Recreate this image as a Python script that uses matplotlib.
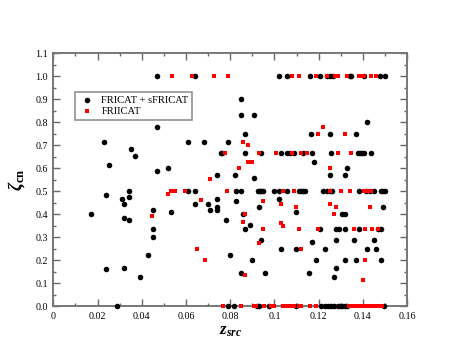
import matplotlib
matplotlib.use("Agg")
import matplotlib.pyplot as plt
from matplotlib.ticker import MultipleLocator

plt.rcParams['font.family'] = ['Liberation Serif', 'DejaVu Serif']
plt.rcParams['mathtext.fontset'] = 'custom'
plt.rcParams['mathtext.rm'] = 'Liberation Serif'
plt.rcParams['mathtext.it'] = 'Liberation Serif:italic'
plt.rcParams['mathtext.bf'] = 'Liberation Serif:bold'
plt.rcParams['mathtext.bfit'] = 'Liberation Serif:bold:italic'

# FRICAT + sFRICAT (black circles)
fr1_z = [0.017, 0.024, 0.024, 0.029, 0.031, 0.032, 0.032, 0.032, 0.034, 0.034, 0.034, 0.039,
         0.043, 0.045, 0.045, 0.045, 0.053, 0.061, 0.064, 0.064, 0.070, 0.071, 0.074, 0.074,
         0.074, 0.078, 0.080, 0.079,
         0.023, 0.025, 0.035, 0.037, 0.047, 0.047, 0.047, 0.052, 0.061, 0.064, 0.068, 0.074,
         0.0758, 0.0765, 0.079,
         0.1019, 0.1058, 0.1159, 0.1208, 0.1238, 0.1249, 0.1264, 0.134, 0.1345, 0.1403, 0.1475, 0.1498,
         0.0847, 0.0847, 0.0907, 0.0868, 0.1167, 0.1249, 0.137, 0.1419, 0.118, 0.1329,
         0.082, 0.1249, 0.132, 0.0907,
         0.0868, 0.094, 0.1028, 0.1058, 0.1068, 0.1088, 0.1128, 0.1169, 0.1257, 0.1377, 0.1387,
         0.1397, 0.1407, 0.1437,
         0.0827, 0.0847, 0.0926, 0.0933, 0.094, 0.095, 0.0997, 0.1019, 0.1058, 0.1109, 0.1121,
         0.113, 0.1139, 0.1219, 0.1238, 0.1249, 0.126, 0.1384, 0.1412, 0.143, 0.145, 0.148, 0.149, 0.150,
         0.0827, 0.1019, 0.0928, 0.1098, 0.0857, 0.1305, 0.1317, 0.149, 0.0888, 0.0868, 0.1208,
         0.1279, 0.129, 0.132, 0.138, 0.1468, 0.1482, 0.094, 0.1169, 0.1279, 0.1359, 0.145,
         0.1028, 0.1098, 0.1229, 0.1419, 0.146, 0.0898, 0.1189, 0.132, 0.137, 0.148, 0.1279,
         0.0847, 0.0958, 0.1157, 0.1269,
         0.0817, 0.0922, 0.0928, 0.0977, 0.1098, 0.1211, 0.1227, 0.1241, 0.1257, 0.1268, 0.1287,
         0.1297, 0.1307, 0.1317, 0.1327, 0.1497]
fr1_zeta = [0.400, 0.485, 0.162, 0.0, 0.467, 0.444, 0.385, 0.167, 0.500, 0.476, 0.375, 0.125,
            0.222, 0.417, 0.333, 0.300, 0.410, 0.500, 0.500, 0.444, 0.444, 0.420, 0.467, 0.429,
            0.417, 0.375, 0.222, 0.0,
            0.714, 0.615, 0.683, 0.655, 1.0, 0.778, 0.588, 0.600, 0.714, 1.0, 0.714, 0.571,
            0.667, 0.667, 0.714,
            1.0, 1.0, 1.0, 1.0, 1.0, 1.0, 1.0, 1.0, 1.0, 1.0, 1.0, 1.0,
            0.9, 0.833, 0.833, 0.75, 0.75, 0.75, 0.75, 0.8, 0.625, 0.6,
            0.571, 0.571, 0.571, 0.556,
            0.667, 0.667, 0.667, 0.667, 0.667, 0.667, 0.667, 0.667, 0.667, 0.667, 0.667,
            0.667, 0.667, 0.667,
            0.5, 0.5, 0.5, 0.5, 0.5, 0.5, 0.5, 0.5, 0.5, 0.5, 0.5,
            0.5, 0.5, 0.5, 0.5, 0.5, 0.5, 0.5, 0.5, 0.5, 0.5, 0.5, 0.5, 0.5,
            0.455, 0.467, 0.429, 0.41, 0.4, 0.4, 0.4, 0.429, 0.353, 0.333, 0.333,
            0.333, 0.333, 0.333, 0.333, 0.333, 0.333, 0.286, 0.278, 0.286, 0.286, 0.286,
            0.25, 0.25, 0.25, 0.25, 0.25, 0.2, 0.2, 0.2, 0.2, 0.2, 0.167,
            0.143, 0.143, 0.143, 0.125,
            0.0, 0.0, 0.0, 0.0, 0.0, 0.0, 0.0, 0.0, 0.0, 0.0, 0.0,
            0.0, 0.0, 0.0, 0.0, 0.0]

# FRIICAT (red squares)
fr2_z = [0.0448, 0.0518, 0.0531, 0.0549, 0.0597, 0.0669, 0.0708, 0.065, 0.0687, 0.0787,
         0.0538, 0.0628, 0.0726, 0.079, 0.1079, 0.1109, 0.119, 0.1238, 0.1273, 0.1288, 0.1328,
         0.1381, 0.1393, 0.1403, 0.1436, 0.1459,
         0.0778, 0.0928, 0.1008, 0.1079, 0.1118, 0.1148, 0.1287, 0.1347,
         0.1197, 0.1317, 0.1218, 0.0857, 0.088, 0.088, 0.0899, 0.0839, 0.1249,
         0.104, 0.1088, 0.1249, 0.1299, 0.134, 0.1404, 0.1419, 0.1435,
         0.0948, 0.1028, 0.1098, 0.1249, 0.1279, 0.1269, 0.143, 0.0868, 0.0857, 0.1028, 0.1038,
         0.0948, 0.1109, 0.1196, 0.1359, 0.141, 0.144, 0.1468, 0.0928, 0.1118, 0.141, 0.0868, 0.14,
         0.0767, 0.0847, 0.0907, 0.0918, 0.0952, 0.0985, 0.1, 0.1038, 0.1058, 0.1077, 0.1088,
         0.1109, 0.1118, 0.1159, 0.1189, 0.1335, 0.1345, 0.1355, 0.1365, 0.1375, 0.1385, 0.1395,
         0.1405, 0.1415, 0.1425, 0.1435, 0.1445, 0.1455, 0.1465, 0.1475, 0.1485]
fr2_zeta = [0.392, 0.486, 0.5, 0.5, 0.5, 0.461, 0.552, 0.25, 0.2, 0.5,
            1.0, 1.0, 1.0, 1.0, 1.0, 1.0, 1.0, 1.0, 1.0, 1.0, 1.0,
            1.0, 1.0, 1.0, 1.0, 1.0,
            0.667, 0.667, 0.667, 0.667, 0.667, 0.667, 0.667, 0.667,
            0.75, 0.75, 0.778, 0.714, 0.7, 0.625, 0.625, 0.6, 0.6,
            0.5, 0.5, 0.5, 0.5, 0.5, 0.5, 0.5, 0.5,
            0.455, 0.444, 0.429, 0.444, 0.429, 0.4, 0.429, 0.4, 0.367, 0.36, 0.348,
            0.333, 0.333, 0.333, 0.333, 0.333, 0.333, 0.333, 0.273, 0.25, 0.2, 0.133, 0.111,
            0.0, 0.0, 0.0, 0.0, 0.0, 0.0, 0.0, 0.0, 0.0, 0.0, 0.0,
            0.0, 0.0, 0.0, 0.0, 0.0, 0.0, 0.0, 0.0, 0.0, 0.0, 0.0,
            0.0, 0.0, 0.0, 0.0, 0.0, 0.0, 0.0, 0.0, 0.0]

fig = plt.figure(figsize=(4.58, 3.6), dpi=100)
ax = fig.add_axes([0.1164, 0.15, 0.7726, 0.702])

ax.scatter(fr1_z, fr1_zeta, s=16, marker='o', color='black', linewidths=0,
           label='FRICAT + sFRICAT', zorder=3, clip_on=False)
ax.scatter(fr2_z, fr2_zeta, s=12, marker='s', color='#ff0000', linewidths=0,
           label='FRIICAT', zorder=3, clip_on=False)

ax.set_xlim(0, 0.16)
ax.set_ylim(0, 1.1)
ax.xaxis.set_minor_locator(MultipleLocator(0.01))
ax.yaxis.set_minor_locator(MultipleLocator(0.05))
ax.set_xticks([0, 0.02, 0.04, 0.06, 0.08, 0.10, 0.12, 0.14, 0.16])
ax.set_xticklabels(['0', '0.02', '0.04', '0.06', '0.08', '0.1', '0.12', '0.14', '0.16'])
ax.set_yticks([0.0, 0.1, 0.2, 0.3, 0.4, 0.5, 0.6, 0.7, 0.8, 0.9, 1.0, 1.1])
ax.set_yticklabels(['0.0', '0.1', '0.2', '0.3', '0.4', '0.5', '0.6', '0.7', '0.8', '0.9', '1.0', '1.1'])

ax.tick_params(which='both', direction='in', top=True, right=True, labelsize=7.2,
               color='#666666', width=1.0)
ax.tick_params(which='major', length=5, pad=4)
ax.tick_params(which='minor', length=2.5)
for sp in ax.spines.values():
    sp.set_color('#777777')
    sp.set_linewidth(1.4)

ax.set_xlabel(r'$\mathbfit{z}_{\mathbfit{src}}$', fontsize=12, labelpad=2)
ax.set_ylabel(r'$\mathbfit{\zeta}_{\mathbf{cn}}$', fontsize=13, labelpad=6)

leg = ax.legend(loc='upper left', bbox_to_anchor=(0.045, 0.868), fontsize=7.6,
                frameon=True, fancybox=False, handletextpad=0.6, borderpad=0.35,
                labelspacing=0.15, handlelength=1.6, scatterpoints=1)
leg.get_frame().set_edgecolor('#777777')
leg.get_frame().set_linewidth(1.2)

fig.savefig('out.png', dpi=100)
